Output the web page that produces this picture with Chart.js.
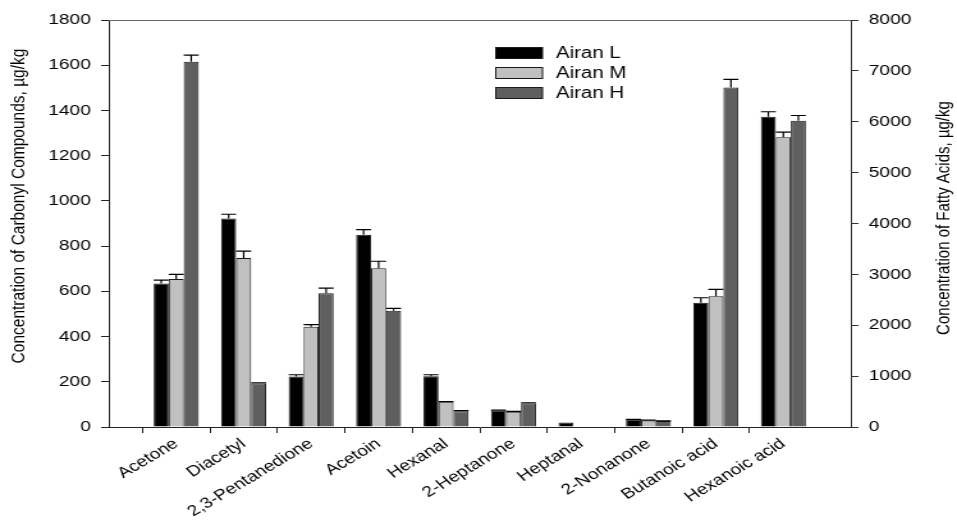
<!DOCTYPE html>
<html>
<head>
<meta charset="utf-8">
<script src="https://cdn.jsdelivr.net/npm/chart.js@4.4.1/dist/chart.umd.min.js"></script>
<style>
  html, body { margin: 0; padding: 0; background: #fff; }
  #wrap { width: 957px; height: 521px; overflow: hidden; }
  canvas { display: block; }
</style>
</head>
<body>
<div id="wrap"><canvas id="c" width="748" height="521" style="width:957px;height:521px"></canvas></div>
<script>
// Compounds shown along the x axis
const categories = ['Acetone', 'Diacetyl', '2,3-Pentanedione', 'Acetoin', 'Hexanal',
  '2-Heptanone', 'Heptanal', '2-Nonanone', 'Butanoic acid', 'Hexanoic acid'];
const seriesNames = ['Airan L', 'Airan M', 'Airan H'];
const seriesColors = ['#000000', '#c0c0c0', '#5f5f5f'];

// Carbonyl compounds (left axis), µg/kg
const carbonylL = [635, 922, 223, 850, 225, 73, 20, 33];
const carbonylM = [655, 747, 443, 702, 110, 67, 0, 29];
const carbonylH = [1615, 192, 592, 514, 70, 104, 0, 26];
const carbonylErrL = [15, 19, 8, 23, 6, 2, 0, 1];
const carbonylErrM = [20, 31, 10, 31, 2, 2, 0, 1];
const carbonylErrH = [30, 3, 22, 11, 2, 3, 0, 1];

// Fatty acids (right axis), µg/kg
const acidL = [2441, 6097];
const acidM = [2571, 5696];
const acidH = [6672, 6018];
const acidErrL = [100, 100];
const acidErrM = [135, 100];
const acidErrH = [160, 105];

// Axis ticks
const leftTicks = [0, 200, 400, 600, 800, 1000, 1200, 1400, 1600, 1800];
const rightTicks = [0, 1000, 2000, 3000, 4000, 5000, 6000, 7000, 8000];

const leftTitle = 'Concentration of Carbonyl Compounds, µg/kg';
const rightTitle = 'Concentration of Fatty Acids, µg/kg';

const FONT = 'Arial, "Liberation Sans", sans-serif';

// One empty slot on each side of the compound list
const xLabels = ['', ...categories, ''];
const nAcid = acidL.length;
const nCarb = carbonylL.length;
const padCarbonyl = a => [null, ...a, ...new Array(nAcid).fill(null), null];
const padAcid = a => [null, ...new Array(nCarb).fill(null), ...a, null];

const carbSets = [carbonylL, carbonylM, carbonylH];
const carbErrs = [carbonylErrL, carbonylErrM, carbonylErrH];
const acidSets = [acidL, acidM, acidH];
const acidErrs = [acidErrL, acidErrM, acidErrH];

const datasets = [];
seriesNames.forEach((name, i) => {
  datasets.push({
    label: name, yAxisID: 'y',
    data: padCarbonyl(carbSets[i]), errors: padCarbonyl(carbErrs[i]),
    backgroundColor: seriesColors[i], borderColor: '#1a1a1a', borderWidth: 1
  });
});
seriesNames.forEach((name, i) => {
  datasets.push({
    label: name, yAxisID: 'y1',
    data: padAcid(acidSets[i]), errors: padAcid(acidErrs[i]),
    backgroundColor: seriesColors[i], borderColor: '#1a1a1a', borderWidth: 1
  });
});

// Upward-only error bars with caps
const errorBars = {
  id: 'errorBars',
  afterDatasetsDraw(chart) {
    const ctx = chart.ctx;
    chart.data.datasets.forEach((ds, i) => {
      const meta = chart.getDatasetMeta(i);
      const ys = chart.scales[ds.yAxisID];
      meta.data.forEach((el, j) => {
        const v = ds.data[j], e = ds.errors[j];
        if (v == null || !e) return;
        const top = ys.getPixelForValue(v + e);
        const half = el.width / 2;
        ctx.save();
        ctx.strokeStyle = '#000';
        ctx.lineWidth = 1.2;
        ctx.beginPath();
        ctx.moveTo(el.x, el.y);
        ctx.lineTo(el.x, top);
        ctx.moveTo(el.x - half, top);
        ctx.lineTo(el.x + half, top);
        ctx.stroke();
        ctx.restore();
      });
    });
  }
};

// Frame top line, axis titles and the in-plot legend
const decorations = {
  id: 'decorations',
  afterDraw(chart) {
    const ctx = chart.ctx;
    const a = chart.chartArea;
    ctx.save();
    ctx.strokeStyle = '#666';
    ctx.lineWidth = 1;
    ctx.beginPath();
    ctx.moveTo(a.left, a.top + 0.5);
    ctx.lineTo(a.right, a.top + 0.5);
    ctx.stroke();

    ctx.fillStyle = '#000';
    ctx.textAlign = 'center';
    ctx.textBaseline = 'middle';
    ctx.save();
    ctx.font = '15.5px ' + FONT;
    ctx.translate(14.5, 206);
    ctx.rotate(-Math.PI / 2);
    ctx.fillText(leftTitle, 0, 0);
    ctx.restore();
    ctx.save();
    ctx.font = '15px ' + FONT;
    ctx.translate(738, 218);
    ctx.rotate(-Math.PI / 2);
    ctx.fillText(rightTitle, 0, 0);
    ctx.restore();

    // legend
    const bx = 387.5, bw = 36.5, bh = 11;
    ctx.textAlign = 'left';
    ctx.font = '16px ' + FONT;
    seriesNames.forEach((name, i) => {
      const cy = 53 + i * 20;
      ctx.fillStyle = seriesColors[i];
      ctx.fillRect(bx, cy - bh / 2, bw, bh);
      ctx.strokeStyle = '#1a1a1a';
      ctx.lineWidth = 1;
      ctx.strokeRect(bx, cy - bh / 2, bw, bh);
      ctx.fillStyle = '#000';
      ctx.fillText(name, 434.5, cy + 0.5);
    });
    ctx.restore();
  }
};

const plainNumber = v => String(v);

new Chart(document.getElementById('c'), {
  type: 'bar',
  data: { labels: xLabels, datasets },
  options: {
    responsive: false,
    animation: false,
    skipNull: true,
    categoryPercentage: 0.667,
    barPercentage: 1,
    layout: { padding: { top: 20, left: 0, right: 0, bottom: 0 } },
    plugins: { legend: { display: false }, tooltip: { enabled: false } },
    scales: {
      x: {
        type: 'category',
        offset: false,
        grid: {
          display: true, drawOnChartArea: false, drawTicks: true, tickLength: 6,
          color: c => (c.index === 0 || c.index === xLabels.length - 1) ? 'rgba(0,0,0,0)' : '#222'
        },
        border: { display: true, color: '#222', width: 1 },
        ticks: { autoSkip: false, maxRotation: 37, minRotation: 37, color: '#000', padding: 2,
          font: { family: FONT, size: 15 } },
        afterFit(s) { s.height = 94; }
      },
      y: {
        position: 'left', min: 0, max: 1800,
        afterBuildTicks(s) { s.ticks = leftTicks.map(v => ({ value: v })); },
        grid: { display: true, drawOnChartArea: false, tickLength: 6, color: '#222' },
        border: { display: true, color: '#222', width: 1 },
        ticks: { padding: 8, color: '#000', font: { family: FONT, size: 15 }, callback: plainNumber },
        afterFit(s) { s.width = 85; }
      },
      y1: {
        position: 'right', min: 0, max: 8000,
        afterBuildTicks(s) { s.ticks = rightTicks.map(v => ({ value: v })); },
        grid: { display: true, drawOnChartArea: false, tickLength: 6, color: '#333' },
        border: { display: true, color: '#333', width: 1 },
        ticks: { padding: 8, color: '#000', font: { family: FONT, size: 15 }, callback: plainNumber },
        afterFit(s) { s.width = 83; }
      }
    }
  },
  plugins: [errorBars, decorations]
});
</script>
</body>
</html>
